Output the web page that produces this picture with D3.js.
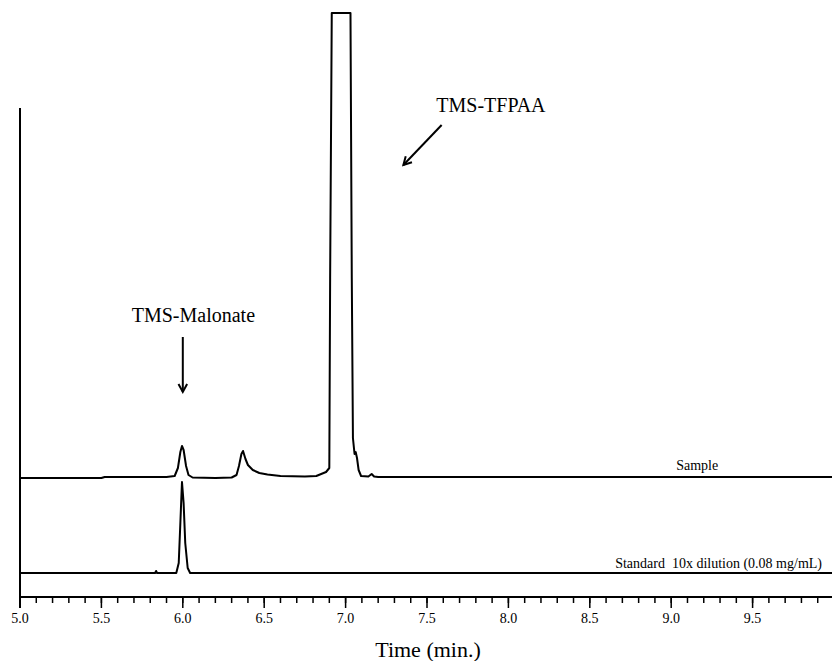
<!DOCTYPE html>
<html>
<head>
<meta charset="utf-8">
<script src="https://cdn.jsdelivr.net/npm/d3@7"></script>
<style>
  body { margin: 0; background: #fff; }
  svg text { font-family: "Liberation Serif", "Times New Roman", Times, serif; fill: #000; }
  .trace { fill: none; stroke: #000; stroke-width: 2; stroke-linejoin: round; }
</style>
</head>
<body>
<svg id="chart" width="832" height="661"></svg>
<script>
// time (min) and detector signal for each trace
const sampleTime = [5.00, 5.50, 5.52, 5.90, 5.95, 5.97, 5.985, 5.995, 6.005, 6.02, 6.035, 6.06, 6.20, 6.30,
  6.33, 6.345, 6.36, 6.37, 6.385, 6.40, 6.43, 6.47, 6.52, 6.60, 6.75, 6.82, 6.85, 6.88, 6.90, 6.905,
  6.915, 7.03, 7.038, 7.045, 7.055, 7.062, 7.07, 7.08, 7.095, 7.14, 7.16, 7.175, 7.20, 9.99];
const sampleSignal = [0, 0, 1, 1, 2, 10, 26, 32, 28, 12, 3, 0.5, 0, 0.5,
  3, 12, 24, 27, 19, 13, 8, 5, 3.5, 2, 1.5, 2, 4, 6, 10, 200,
  900, 900, 200, 40, 24, 26, 20, 8, 2, 1.5, 4, 1.5, 1, 1];

const standardTime = [5.00, 5.83, 5.836, 5.842, 5.96, 5.975, 5.985, 5.995, 6.005, 6.015, 6.03, 6.045, 9.99];
const standardSignal = [0, 0, 2, 0, 0, 10, 50, 91, 70, 30, 5, 0, 0];

// vertical offsets of the two traces
const traceNames = ["Sample", "Standard\u00a0 10x dilution (0.08 mg/mL)"];
const traceOffsets = [119, 24];

const majorTicks = [5.0, 5.5, 6.0, 6.5, 7.0, 7.5, 8.0, 8.5, 9.0, 9.5];
const minorTicks = d3.range(51).map(i => 5 + i * 0.1);

const svg = d3.select("#chart");

const x = d3.scaleLinear().domain([5, 10]).range([20, 834]);
const y = d3.scaleLinear().domain([0, 584]).range([597, 13]).clamp(true);

// traces
const traces = [
  sampleTime.map((t, i) => [t, sampleSignal[i] + traceOffsets[0]]),
  standardTime.map((t, i) => [t, standardSignal[i] + traceOffsets[1]])
];
const line = d3.line().x(d => x(d[0])).y(d => y(d[1]));

svg.append("g")
  .selectAll("path")
  .data(traces)
  .enter().append("path")
  .attr("class", "trace")
  .attr("d", line);

// trace labels
svg.append("text")
  .attr("x", x(9.16))
  .attr("y", y(traceOffsets[0]) - 8)
  .attr("text-anchor", "middle")
  .attr("font-size", 14)
  .text(traceNames[0]);

svg.append("text")
  .attr("x", 822)
  .attr("y", y(traceOffsets[1]) - 5)
  .attr("text-anchor", "end")
  .attr("font-size", 14)
  .text(traceNames[1]);

// x axis
const xAxis = svg.append("g").attr("stroke", "#000");
xAxis.append("line")
  .attr("x1", x(5)).attr("x2", 832)
  .attr("y1", y(0)).attr("y2", y(0))
  .attr("stroke-width", 2);
xAxis.selectAll(".minor")
  .data(minorTicks)
  .enter().append("line")
  .attr("x1", d => x(d)).attr("x2", d => x(d))
  .attr("y1", y(0)).attr("y2", y(0) + 6)
  .attr("stroke-width", 1.5);
xAxis.selectAll(".major")
  .data(majorTicks)
  .enter().append("line")
  .attr("x1", d => x(d)).attr("x2", d => x(d))
  .attr("y1", y(0)).attr("y2", y(0) + 11)
  .attr("stroke-width", 1.5);

svg.append("g")
  .selectAll("text")
  .data(majorTicks)
  .enter().append("text")
  .attr("x", d => x(d))
  .attr("y", 623)
  .attr("text-anchor", "middle")
  .attr("font-size", 14)
  .text(d => d.toFixed(1));

svg.append("text")
  .attr("x", 428)
  .attr("y", 657)
  .attr("text-anchor", "middle")
  .attr("font-size", 22)
  .text("Time (min.)");

// y axis (no ticks)
svg.append("line")
  .attr("x1", x(5)).attr("x2", x(5))
  .attr("y1", 108).attr("y2", y(0) + 11)
  .attr("stroke", "#000")
  .attr("stroke-width", 2);

// annotations
function arrow(x1, y1, x2, y2) {
  const a = Math.atan2(y2 - y1, x2 - x1), h = 9, s = 0.5;
  const g = svg.append("g").attr("stroke", "#000").attr("stroke-width", 2).attr("fill", "none");
  g.append("line").attr("x1", x1).attr("y1", y1).attr("x2", x2).attr("y2", y2);
  g.append("path").attr("d",
    `M${x2 - h * Math.cos(a - s)},${y2 - h * Math.sin(a - s)}L${x2},${y2}L${x2 - h * Math.cos(a + s)},${y2 - h * Math.sin(a + s)}`);
}

svg.append("text")
  .attr("x", x(6.065))
  .attr("y", y(275))
  .attr("text-anchor", "middle")
  .attr("font-size", 20)
  .text("TMS-Malonate");
arrow(x(6.0), y(260), x(6.0), y(205));

svg.append("text")
  .attr("x", x(7.557))
  .attr("y", y(485))
  .attr("font-size", 20)
  .text("TMS-TFPAA");
arrow(x(7.59), y(472), x(7.355), y(432));
</script>
</body>
</html>
